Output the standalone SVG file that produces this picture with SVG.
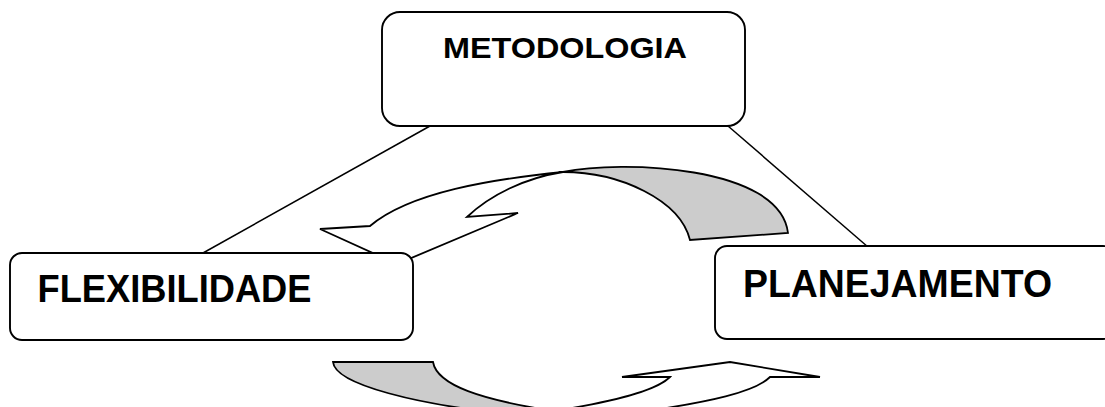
<svg xmlns="http://www.w3.org/2000/svg" width="1105" height="407" viewBox="0 0 1105 407">
<style>
.box{fill:#fff;stroke:#000;stroke-width:1.9}
.ln{fill:none;stroke:#000;stroke-width:1.5}
.arw{fill:#fff;stroke:#000;stroke-width:1.8;stroke-linejoin:miter}
.shade{fill:#cccccc;stroke:#000;stroke-width:1.8}
.lbl{font-family:"Liberation Sans",Arial,sans-serif;font-weight:bold;fill:#000}
</style>
<rect width="1105" height="407" fill="#fff"/>
<g id="connectors">
<line class="ln" x1="430" y1="126" x2="203" y2="253"/>
<line class="ln" x1="728" y1="126" x2="868" y2="247"/>
</g>
<g id="cycle-arrow-top">
<path class="shade" d="M563,172 C620,160 780,165 788,233 L690,240 C680,200 620,172 563,172 Z"/>
<path class="arw" d="M563,172 C493,179 410,192 370,226 L320,229 L397,264 L518,213 L467,217 C490,195 525,178 563,172 Z"/>
</g>
<g id="cycle-arrow-bottom">
<path class="shade" d="M333,362 L433,362 C437,385 480,400 560,412 L510,414 C420,405 335,385 333,362 Z"/>
<path class="arw" d="M560,410 C610,402 655,392 670,377 L622,377 L730,362 L820,377 L770,377 C755,392 710,402 640,412 Z"/>
</g>
<g id="node-metodologia">
<rect class="box" x="382" y="12" width="363" height="114" rx="18"/>
<text class="lbl" x="443" y="58" font-size="30" textLength="244" lengthAdjust="spacingAndGlyphs">METODOLOGIA</text>
</g>
<g id="node-flexibilidade">
<rect class="box" x="10" y="253" width="403" height="87" rx="12"/>
<text class="lbl" x="37.5" y="301.5" font-size="39" textLength="274" lengthAdjust="spacingAndGlyphs">FLEXIBILIDADE</text>
</g>
<g id="node-planejamento">
<rect class="box" x="715" y="246" width="400" height="93" rx="12"/>
<text class="lbl" x="743" y="296.5" font-size="39" textLength="309" lengthAdjust="spacingAndGlyphs">PLANEJAMENTO</text>
</g>
</svg>
